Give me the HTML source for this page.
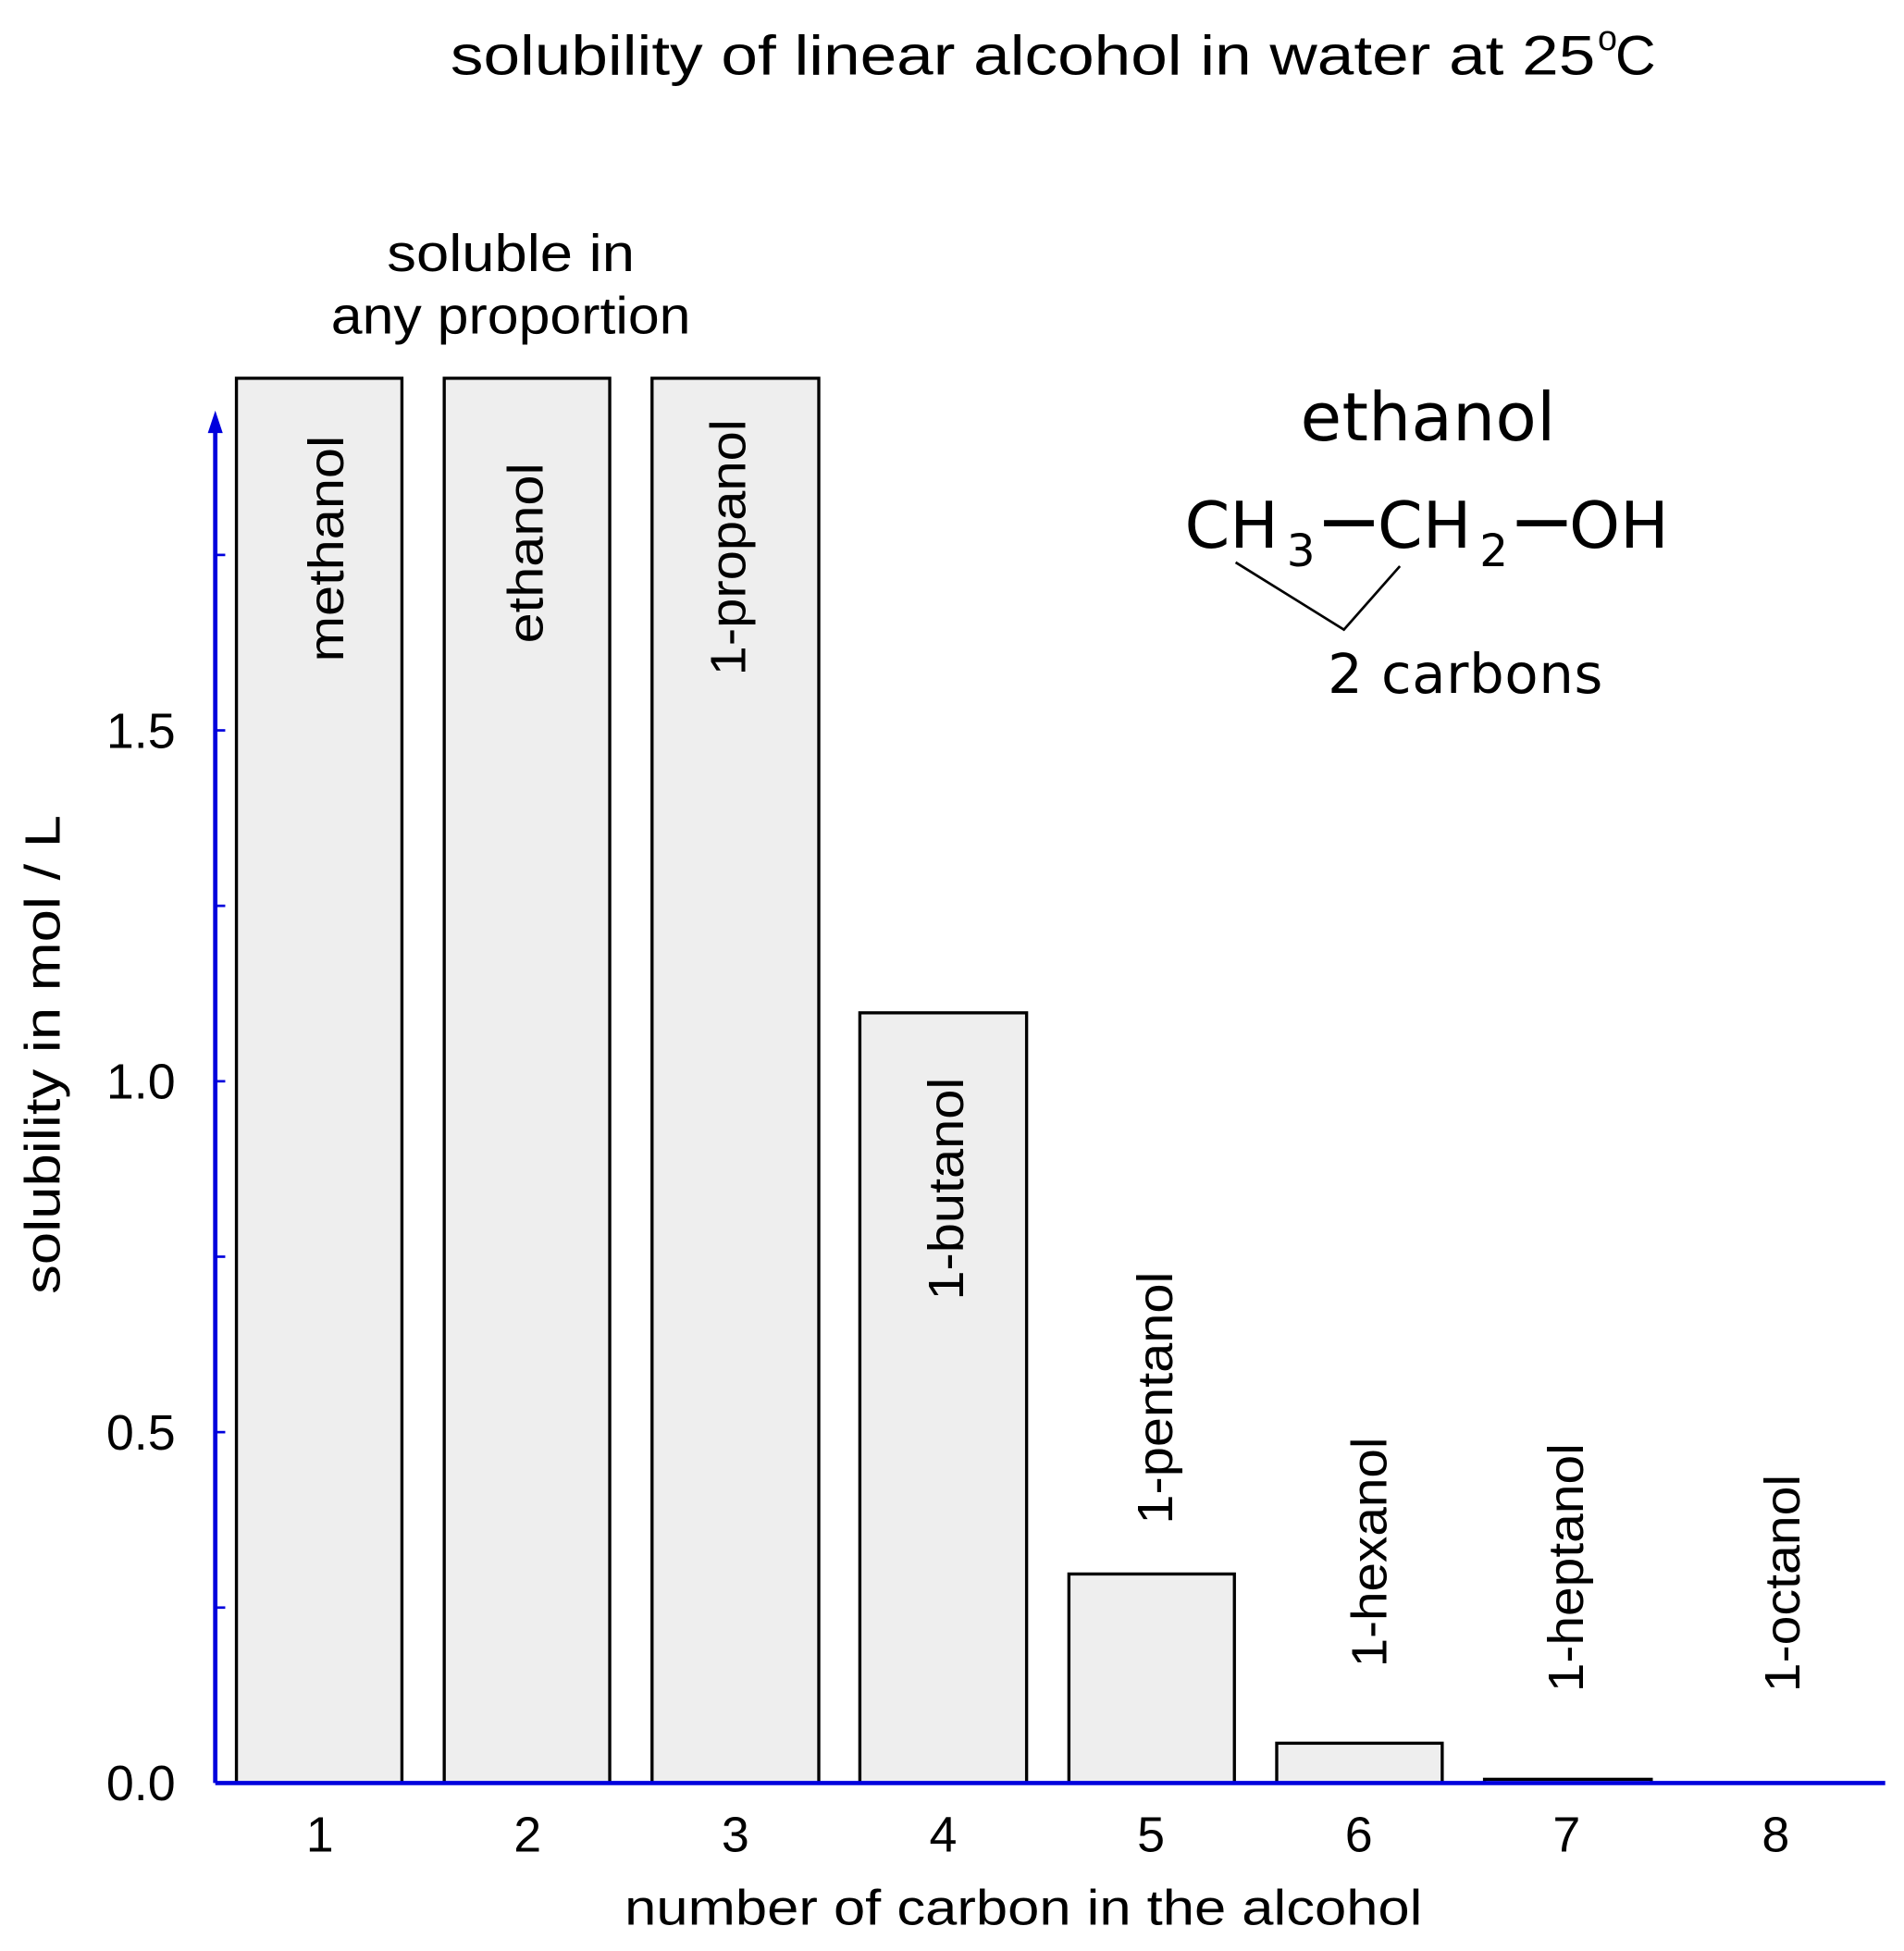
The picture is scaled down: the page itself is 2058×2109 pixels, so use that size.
<!DOCTYPE html>
<html><head><meta charset="utf-8"><style>html,body{margin:0;padding:0;background:#fff}svg{display:block}</style></head>
<body>
<svg width="2058" height="2109" viewBox="0 0 1530.1 1568" preserveAspectRatio="none" xmlns="http://www.w3.org/2000/svg">
<rect width="1530.1" height="1568" fill="#fff"/>
<g font-family="Liberation Sans, sans-serif" fill="#000">
<text x="362" y="60" font-size="45" textLength="920" lengthAdjust="spacingAndGlyphs">solubility of linear alcohol in water at 25</text>
<text x="1284" y="40" font-size="28">o</text>
<text x="1298" y="60" font-size="45">C</text>
<text x="311" y="218" font-size="42" textLength="199" lengthAdjust="spacingAndGlyphs">soluble  in</text>
<text x="266" y="268" font-size="42" textLength="289" lengthAdjust="spacingAndGlyphs">any proportion</text>
</g>
<g fill="#eeeeee" stroke="#000" stroke-width="2.5">
<rect x="190" y="304" width="133" height="1129"/>
<rect x="357" y="304" width="133" height="1129"/>
<rect x="524" y="304" width="134" height="1129"/>
<rect x="691" y="814" width="134" height="619"/>
<rect x="859" y="1265" width="133" height="168"/>
<rect x="1026" y="1401" width="133" height="32"/>
<rect x="1193" y="1430" width="134" height="3"/>
</g>
<g stroke="#0000dd" stroke-width="3.5" fill="none">
<line x1="173" y1="1433" x2="1515" y2="1433"/>
<line x1="173" y1="1433" x2="173" y2="340"/>
</g>
<polygon points="173,330 167,348 179,348" fill="#0000dd"/>
<g stroke="#0000dd" stroke-width="2">
<line x1="173" y1="1292" x2="181" y2="1292"/><line x1="173" y1="1151" x2="181" y2="1151"/>
<line x1="173" y1="1010" x2="181" y2="1010"/><line x1="173" y1="869" x2="181" y2="869"/>
<line x1="173" y1="728" x2="181" y2="728"/><line x1="173" y1="587" x2="181" y2="587"/>
<line x1="173" y1="446" x2="181" y2="446"/>
</g>
<g font-family="Liberation Sans, sans-serif" font-size="40" fill="#000">
<g text-anchor="end">
<text x="141" y="1447">0.0</text><text x="141" y="1165">0.5</text>
<text x="141" y="883">1.0</text><text x="141" y="601">1.5</text>
</g>
<g text-anchor="middle">
<text x="257" y="1488">1</text><text x="424" y="1488">2</text><text x="591" y="1488">3</text>
<text x="758" y="1488">4</text><text x="925" y="1488">5</text><text x="1092" y="1488">6</text>
<text x="1259" y="1488">7</text><text x="1427" y="1488">8</text>
</g>
<text x="502" y="1547" textLength="641" lengthAdjust="spacingAndGlyphs">number of carbon in the alcohol</text>
<text transform="translate(48,1040) rotate(-90)" textLength="385" lengthAdjust="spacingAndGlyphs">solubility in  mol / L</text>
<text transform="translate(276,532) rotate(-90)" textLength="182" lengthAdjust="spacingAndGlyphs">methanol</text>
<text transform="translate(436,517) rotate(-90)" textLength="145" lengthAdjust="spacingAndGlyphs">ethanol</text>
<text transform="translate(599,543) rotate(-90)" textLength="206" lengthAdjust="spacingAndGlyphs">1-propanol</text>
<text transform="translate(774,1045) rotate(-90)" textLength="179" lengthAdjust="spacingAndGlyphs">1-butanol</text>
<text transform="translate(942,1225) rotate(-90)" textLength="203" lengthAdjust="spacingAndGlyphs">1-pentanol</text>
<text transform="translate(1114,1340) rotate(-90)" textLength="185" lengthAdjust="spacingAndGlyphs">1-hexanol</text>
<text transform="translate(1272,1360) rotate(-90)" textLength="200" lengthAdjust="spacingAndGlyphs">1-heptanol</text>
<text transform="translate(1446,1360) rotate(-90)" textLength="175" lengthAdjust="spacingAndGlyphs">1-octanol</text>
</g>
<g font-family="DejaVu Sans, sans-serif" fill="#000">
<text x="1045" y="354" font-size="54" textLength="205" lengthAdjust="spacing">ethanol</text>
<text x="952" y="440" font-size="52">CH</text>
<text x="1034" y="455" font-size="36">3</text>
<rect x="1064" y="418" width="40" height="5"/>
<text x="1107" y="440" font-size="52">CH</text>
<text x="1189" y="455" font-size="36">2</text>
<rect x="1219" y="418" width="40" height="5"/>
<text x="1261" y="440" font-size="52">OH</text>
<text x="1067" y="557" font-size="44" textLength="221" lengthAdjust="spacing">2 carbons</text>
</g>
<polyline points="993,452 1080,506 1125,455" fill="none" stroke="#000" stroke-width="2"/>
</svg>
</body></html>
